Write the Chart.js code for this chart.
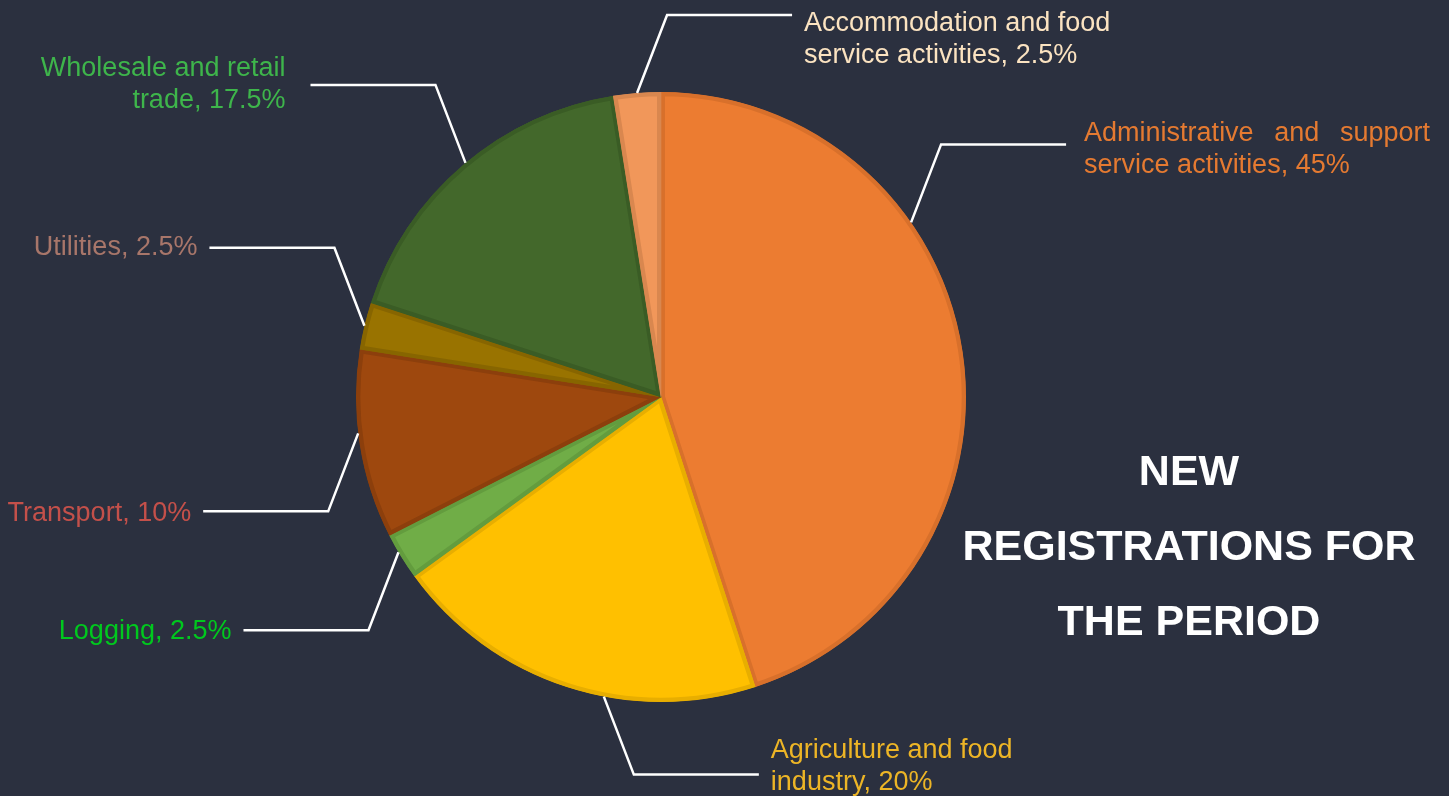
<!DOCTYPE html>
<html>
<head>
<meta charset="utf-8">
<script src="https://cdn.jsdelivr.net/npm/chart.js@4.4.1/dist/chart.umd.min.js"></script>
<style>
  html, body { margin: 0; padding: 0; background: #2B303F; }
  #wrap { width: 1449px; height: 796px; }
</style>
</head>
<body>
<div id="wrap"><canvas id="pieChart" width="1449" height="796"></canvas></div>
<script>
const categories = [
    'Administrative and support\nservice activities',
    'Agriculture and food\nindustry',
    'Logging',
    'Transport',
    'Utilities',
    'Wholesale and retail\ntrade',
    'Accommodation and food\nservice activities',
];
const shares = [45, 20, 2.5, 10, 2.5, 17.5, 2.5];
const sliceColors = ['#EC7C31', '#FFC000', '#70AD47', '#9E480E', '#997300', '#43682B', '#F1975A'];
const sliceEdges = ['#D8702B', '#E8AE00', '#639C3E', '#8C3F0C', '#876500', '#3A5C25', '#D9874F'];
const labelColors = ['#E57A31', '#EDB526', '#00C81E', '#C4504A', '#A8766A', '#3EB54B', '#FBE3C1'];
const titleLines = ['NEW', 'REGISTRATIONS FOR', 'THE PERIOD'];

// where each leader line leaves its slice and which way it runs
const leaderLayout = [
    { at: 0.34, side: 1, rise: -1, gap: 18, justify: 346, dy: 5 },
    { at: 0.4, side: 1, rise: 1 },
    { at: 0.6, side: -1, rise: 1, dy: 1 },
    { at: 0.56, side: -1, rise: 1, dy: 2 },
    { side: -1, rise: -1 },
    { at: 0.51, side: -1, rise: -1, gap: 25 },
    { side: 1, rise: -1 },
];

const labelFont = '27px "Liberation Sans", Arial, sans-serif';
const lineH = 32;

const leaderLabels = {
    id: 'leaderLabels',
    afterDatasetsDraw(chart) {
        const ctx = chart.ctx;
        const meta = chart.getDatasetMeta(0);
        ctx.save();
        ctx.font = labelFont;
        ctx.textBaseline = 'middle';
        meta.data.forEach((arc, i) => {
            const p = arc.getProps(['x', 'y', 'startAngle', 'endAngle', 'outerRadius'], true);
            const cfg = leaderLayout[i];
            const frac = cfg.at === undefined ? 0.5 : cfg.at;
            const a = p.startAngle + frac * (p.endAngle - p.startAngle);
            const sx = p.x + Math.cos(a) * p.outerRadius;
            const sy = p.y + Math.sin(a) * p.outerRadius;
            const ex = sx + cfg.side * 30;
            const ey = sy + cfg.rise * 78;
            const hx = ex + cfg.side * 125;

            ctx.strokeStyle = '#FFFFFF';
            ctx.lineWidth = 2.5;
            ctx.beginPath();
            ctx.moveTo(sx, sy);
            ctx.lineTo(ex, ey);
            ctx.lineTo(hx, ey);
            ctx.stroke();

            const lines = (categories[i] + ', ' + shares[i] + '%').split('\n');
            const gap = cfg.gap || 12;
            const tx = hx + cfg.side * gap;
            let top = ey + (cfg.dy || 0) - lines.length * lineH / 2;
            top = Math.max(8, Math.min(top, 799 - lines.length * lineH));
            ctx.fillStyle = labelColors[i];
            lines.forEach((ln, k) => {
                const y = top + lineH * (k + 0.5);
                ctx.textAlign = cfg.side > 0 ? 'left' : 'right';
                if (cfg.justify && k < lines.length - 1) {
                    const words = ln.split(' ');
                    const wsum = words.reduce((s, w) => s + ctx.measureText(w).width, 0);
                    const space = (cfg.justify - wsum) / (words.length - 1);
                    let x = tx;
                    ctx.textAlign = 'left';
                    words.forEach(w => {
                        ctx.fillText(w, x, y);
                        x += ctx.measureText(w).width + space;
                    });
                } else {
                    ctx.fillText(ln, tx, y);
                }
            });
        });

        ctx.fillStyle = '#FFFFFF';
        ctx.font = 'bold 43px "Liberation Sans", Arial, sans-serif';
        ctx.textAlign = 'center';
        titleLines.forEach((t, k) => {
            ctx.fillText(t, 1189, 473 + k * 75);
        });
        ctx.restore();
    }
};

new Chart(document.getElementById('pieChart'), {
    type: 'pie',
    data: {
        labels: categories,
        datasets: [{
            data: shares,
            backgroundColor: sliceColors,
            borderColor: sliceEdges,
            borderWidth: 4,
            borderAlign: 'inner',
        }],
    },
    options: {
        responsive: false,
        animation: false,
        layout: { padding: { top: 92, bottom: 94, left: 356, right: 483 } },
        plugins: {
            legend: { display: false },
            tooltip: { enabled: false },
        },
    },
    plugins: [leaderLabels],
});
</script>
</body>
</html>
